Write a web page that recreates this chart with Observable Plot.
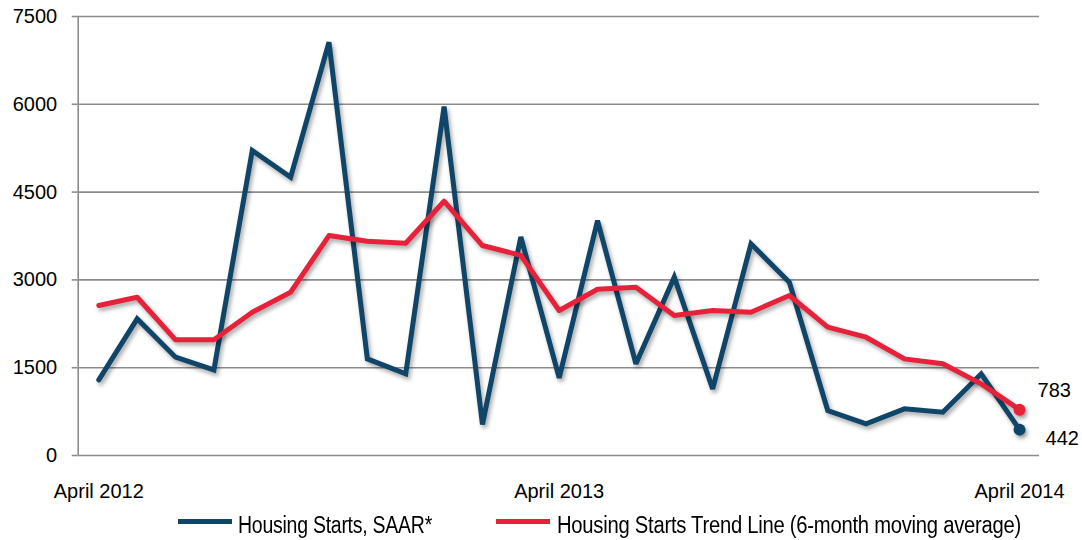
<!DOCTYPE html>
<html>
<head>
<meta charset="utf-8">
<script src="https://cdn.jsdelivr.net/npm/d3@7"></script>
<script src="https://cdn.jsdelivr.net/npm/@observablehq/plot@0.6"></script>
<style>
  html, body { margin: 0; padding: 0; background: #fff; }
  body { width: 1082px; height: 540px; overflow: hidden; font-family: "Liberation Sans", Arial, sans-serif; }
  #wrap { position: relative; width: 1082px; height: 540px; }
  #chart svg { display: block; }
  #chart g[aria-label="line"] { filter: drop-shadow(2px 3px 2px rgba(0,0,0,0.35)); }
  #chart g[aria-label="dot"] { filter: drop-shadow(2px 3px 2px rgba(0,0,0,0.35)); }
  .sw { position: absolute; top: 519px; height: 4.5px; width: 54px; }
  .lt { position: absolute; top: 513.5px; font-size: 23px; line-height: 23px; color: #000; white-space: nowrap; transform-origin: 0 50%; letter-spacing: -0.3px; }
</style>
</head>
<body>
<div id="wrap">
  <div id="chart"></div>
  <div class="sw" id="sw1" style="left:178px"></div>
  <span class="lt" id="lt1" style="left:238px"></span>
  <div class="sw" id="sw2" style="left:496px"></div>
  <span class="lt" id="lt2" style="left:557px"></span>
</div>
<script>
// Months April 2012 .. April 2014 (25 monthly observations)
const months = ["2012-04","2012-05","2012-06","2012-07","2012-08","2012-09","2012-10","2012-11","2012-12",
                "2013-01","2013-02","2013-03","2013-04","2013-05","2013-06","2013-07","2013-08","2013-09",
                "2013-10","2013-11","2013-12","2014-01","2014-02","2014-03","2014-04"];
// Housing Starts, SAAR*
const starts = [1293, 2335, 1680, 1463, 5210, 4754, 7060, 1651, 1395, 5961, 529, 3735, 1325,
                4014, 1566, 3046, 1139, 3616, 2960, 769, 541, 797, 740, 1395, 442];
// Housing Starts Trend Line (6-month moving average)
const trend = [2562, 2704, 1976, 1976, 2448, 2789, 3758, 3661, 3627, 4344, 3587, 3420, 2477,
               2840, 2875, 2391, 2477, 2448, 2733, 2192, 2021, 1651, 1566, 1224, 783];
const yTicks = [0, 1500, 3000, 4500, 6000, 7500];
const xTickIdx = [0, 12, 24];
const xTickLabels = ["April 2012", "April 2013", "April 2014"];
const seriesNames = ["Housing Starts, SAAR*", "Housing Starts Trend Line (6-month moving average)"];
const colors = ["#0e4568", "#e8213b"];

const rowsS = starts.map((v, i) => ({i, v, m: months[i]}));
const rowsT = trend.map((v, i) => ({i, v, m: months[i]}));
const lastS = [rowsS[rowsS.length - 1]];
const lastT = [rowsT[rowsT.length - 1]];
const n = months.length;

const chart = Plot.plot({
  width: 1082,
  height: 505,
  marginLeft: 77.7,
  marginRight: 43,
  marginTop: 16,
  marginBottom: 50,
  style: {fontFamily: "'Liberation Sans', Arial, sans-serif", fontSize: "20px", color: "#000", background: "#fff"},
  x: {domain: [-0.537, n - 1 + 0.52], axis: null},
  y: {domain: [0, 7500], axis: null},
  marks: [
    Plot.ruleY(yTicks, {stroke: "#8c8c8c", strokeWidth: 1.6}),
    Plot.ruleX([-0.537], {stroke: "#8c8c8c", strokeWidth: 1.6}),
    Plot.axisY({ticks: yTicks, tickSize: 6, tickPadding: 15, stroke: "#8c8c8c", strokeWidth: 1.6, fontSize: 20, tickFormat: d => String(d), label: null}),
    Plot.axisX({ticks: xTickIdx, tickSize: 0, tickPadding: 28, fontSize: 20, tickFormat: d => xTickLabels[xTickIdx.indexOf(d)], label: null, style: {letterSpacing: "-0.8px"}}),
    Plot.line(rowsS, {x: "i", y: "v", stroke: colors[0], strokeWidth: 5, strokeLinejoin: "miter", strokeMiterlimit: 3}),
    Plot.line(rowsT, {x: "i", y: "v", stroke: colors[1], strokeWidth: 5, strokeLinejoin: "round"}),
    Plot.dot(lastS, {x: "i", y: "v", r: 6, fill: colors[0]}),
    Plot.dot(lastT, {x: "i", y: "v", r: 6, fill: colors[1]}),
    Plot.text(lastT, {x: "i", y: "v", text: d => String(d.v), textAnchor: "start", dx: 18, dy: -19, fontSize: 20, fill: "#000"}),
    Plot.text(lastS, {x: "i", y: "v", text: d => String(d.v), textAnchor: "start", dx: 26, dy: 9, fontSize: 20, fill: "#000"})
  ]
});
document.getElementById("chart").appendChild(chart);
document.getElementById("sw1").style.background = colors[0];
document.getElementById("sw2").style.background = colors[1];
// legend text: condensed to the widths seen in the reference
const legendWidths = [194, 464];
["lt1", "lt2"].forEach((id, k) => {
  const el = document.getElementById(id);
  el.textContent = seriesNames[k];
  const w = el.getBoundingClientRect().width;
  el.style.transform = `scaleX(${legendWidths[k] / w})`;
});
</script>
</body>
</html>
